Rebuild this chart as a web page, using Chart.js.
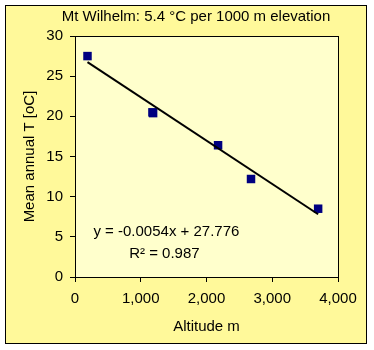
<!DOCTYPE html>
<html>
<head>
<meta charset="utf-8">
<script src="https://cdn.jsdelivr.net/npm/chart.js@4/dist/chart.umd.min.js"></script>
<style>
  body { margin: 0; background: #fff; }
  #wrap { width: 374px; height: 350px; }
</style>
</head>
<body>
<div id="wrap"><canvas id="chart" width="374" height="350"></canvas></div>
<script>
// altitude (m) and mean annual temperature (oC)
const altitudes = [190, 1178, 1188, 2176, 2677, 3698];
const temperatures = [27.5, 20.5, 20.4, 16.4, 12.2, 8.5];

// linear trendline as printed on the chart
const trendSlope = -0.0054;
const trendIntercept = 27.776;
const trendText = ['y = -0.0054x + 27.776', 'R\u00b2 = 0.987'];
const chartTitle = 'Mt Wilhelm: 5.4 \u00b0C per 1000 m elevation';

const xTickValues = [0, 1000, 2000, 3000, 4000];
const xTickLabels = ['0', '1,000', '2,000', '3,000', '4,000'];
const yTickValues = [0, 5, 10, 15, 20, 25, 30];
const yTickLabels = ['0', '5', '10', '15', '20', '25', '30'];

const FONT = "'Liberation Sans', Arial, sans-serif";

const points = altitudes.map((a, i) => ({ x: a, y: temperatures[i] }));
const xFirst = Math.min(...altitudes);
const xLast = Math.max(...altitudes);
const trendPoints = [
  { x: xFirst, y: trendIntercept + trendSlope * xFirst },
  { x: xLast, y: trendIntercept + trendSlope * xLast }
];

// outer panel, title, plot area fill and border, trendline equation
const panelPlugin = {
  id: 'panel',
  beforeDraw(chart) {
    const ctx = chart.ctx;
    const a = chart.chartArea;
    ctx.save();
    ctx.fillStyle = '#fff99a';
    ctx.fillRect(5, 5, 362, 339);
    ctx.strokeStyle = '#000';
    ctx.lineWidth = 1;
    ctx.strokeRect(5.5, 5.5, 361, 338);
    ctx.fillStyle = '#ffffcc';
    ctx.fillRect(a.left, a.top, a.right - a.left, a.bottom - a.top);
    ctx.fillStyle = '#000';
    ctx.font = '15px ' + FONT;
    ctx.textAlign = 'center';
    ctx.textBaseline = 'middle';
    ctx.fillText(chartTitle, 196, 17);
    ctx.restore();
  },
  afterDraw(chart) {
    const ctx = chart.ctx;
    const a = chart.chartArea;
    ctx.save();
    ctx.strokeStyle = '#000';
    ctx.lineWidth = 1;
    ctx.strokeRect(Math.round(a.left) + 0.5, Math.round(a.top) + 0.5,
      Math.round(a.right - a.left), Math.round(a.bottom - a.top));
    const xs = chart.scales.x, ys = chart.scales.y;
    ctx.fillStyle = '#000';
    ctx.font = '15px ' + FONT;
    ctx.textAlign = 'center';
    ctx.textBaseline = 'middle';
    ctx.fillText(trendText[0], xs.getPixelForValue(1390), ys.getPixelForValue(5.6));
    ctx.fillText(trendText[1], xs.getPixelForValue(1360), ys.getPixelForValue(2.9));
    ctx.restore();
  }
};

new Chart(document.getElementById('chart'), {
  type: 'scatter',
  data: {
    datasets: [
      {
        label: 'Trend',
        type: 'line',
        data: trendPoints,
        borderColor: '#000',
        borderWidth: 2,
        pointRadius: 0,
        fill: false
      },
      {
        label: 'Mean annual T',
        data: points,
        pointStyle: 'rect',
        pointRadius: 6,
        pointHoverRadius: 6,
        backgroundColor: '#000080',
        borderColor: '#000080',
        borderWidth: 0
      }
    ]
  },
  options: {
    responsive: false,
    animation: false,
    layout: { padding: { left: 0, right: 36, top: 36, bottom: 0 } },
    plugins: {
      legend: { display: false },
      tooltip: { enabled: false },
      title: { display: false }
    },
    scales: {
      x: {
        type: 'linear',
        min: 0,
        max: 4000,
        afterFit(scale) { scale.height = 73; },
        afterBuildTicks(scale) { scale.ticks = xTickValues.map(v => ({ value: v })); },
        ticks: {
          color: '#000',
          padding: 8,
          maxRotation: 0,
          font: { family: FONT, size: 15 },
          callback: v => xTickLabels[xTickValues.indexOf(v)]
        },
        grid: { drawOnChartArea: false, drawTicks: true, tickLength: 5, color: '#000' },
        border: { display: true, color: '#000', width: 1 },
        title: {
          display: true,
          text: 'Altitude m',
          color: '#000',
          font: { family: FONT, size: 15 },
          padding: { top: 0, bottom: 14 }
        }
      },
      y: {
        type: 'linear',
        min: 0,
        max: 30,
        afterFit(scale) { scale.width = 75; },
        afterBuildTicks(scale) { scale.ticks = yTickValues.map(v => ({ value: v })); },
        ticks: {
          color: '#000',
          padding: 7,
          font: { family: FONT, size: 15 },
          callback: v => yTickLabels[yTickValues.indexOf(v)]
        },
        grid: { drawOnChartArea: false, drawTicks: true, tickLength: 5, color: '#000' },
        border: { display: true, color: '#000', width: 1 },
        title: {
          display: true,
          text: 'Mean annual T [oC]',
          color: '#000',
          font: { family: FONT, size: 15 },
          padding: { top: 21, bottom: 0 }
        }
      }
    }
  },
  plugins: [panelPlugin]
});
</script>
</body>
</html>
